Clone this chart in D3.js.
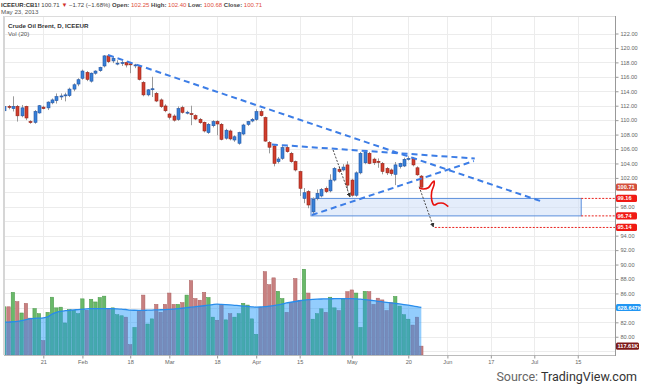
<!DOCTYPE html>
<html><head><meta charset="utf-8">
<script src="https://cdn.jsdelivr.net/npm/d3@7"></script>
<style>body{margin:0;background:#fff;} svg{display:block;font-family:"Liberation Sans",Arial,sans-serif;}</style>
</head><body><svg id="c" width="645" height="388"></svg>
<script>
// ---------- DATA ----------
const startDate = "2013-01-08";
const holidays = ["2013-03-29", "2013-05-27"];
const opens = [111.3,111.9,111.6,111.9,110.6,111.9,109.8,109.7,111.0,111.8,111.7,112.4,112.7,113.3,113.45,113.4,114.3,115.0,115.8,116.6,115.4,116.5,116.85,117.5,118.9,118.2,117.85,117.93,117.96,117.8,117.55,117.4,115.2,113.5,114.3,113.7,112.8,111.96,110.85,110.57,110.1,111.73,111.05,110.9,110.62,110.1,109.7,108.27,109.23,109.8,109.42,107.5,108.5,107.25,106.8,108.08,109.42,109.88,110.1,111.17,110.35,106.9,106.42,104.25,104.71,106.19,105.4,104.25,102.86,99.17,100.1,97.3,99.17,99.5,100.55,100.2,101.7,103.2,103.1,103.8,101.7,99.6,102.7,104.1,105.4,104.6,104.3,104.0,103.3,103.1,102.5,103.56,103.65,104.6,104.7,103.4,102.25];
const highs = [112.3,112.1,113.3,112.1,112.1,112.0,110.0,111.4,112.1,112.0,112.6,113.0,113.7,113.7,113.8,114.5,115.1,115.8,117.0,116.8,116.6,116.9,117.4,119.0,119.1,118.8,118.3,118.2,118.1,118.0,117.8,117.6,115.4,114.3,116.0,113.9,113.0,112.2,111.0,110.8,111.9,112.0,111.3,112.0,110.8,110.3,109.8,109.6,110.0,110.0,109.6,108.8,108.7,107.9,108.4,109.5,109.9,110.3,111.5,111.5,110.5,107.1,106.6,104.9,106.4,106.4,105.6,104.4,103.0,100.6,100.3,99.3,100.4,100.6,100.8,102.5,103.5,103.6,103.9,104.3,101.9,102.9,105.6,105.8,105.6,104.8,104.7,104.2,103.5,103.3,104.2,104.1,104.8,105.0,104.9,103.6,102.40];
const lows = [111.1,111.5,111.2,109.8,110.4,110.0,109.5,109.5,110.9,111.5,111.4,112.2,112.3,112.8,112.6,113.2,114.0,114.7,115.6,115.4,115.2,116.3,116.7,117.3,117.9,117.9,117.6,117.5,117.3,116.5,117.2,115.5,113.3,113.3,113.2,112.5,111.7,111.1,110.1,109.8,109.9,110.9,110.8,109.3,110.0,109.5,108.3,108.1,109.0,107.9,107.2,107.3,107.2,107.0,106.6,107.9,109.2,109.7,109.9,110.5,107.0,105.4,103.6,104.0,104.5,105.5,104.1,102.9,99.5,98.5,97.8,96.86,98.9,99.3,99.9,100.0,101.5,102.7,102.9,100.3,99.4,99.4,102.5,103.9,103.9,103.8,103.4,102.5,102.4,102.3,101.0,103.3,103.5,104.4,103.6,102.3,100.68];
const closes = [111.9,111.8,111.9,110.6,111.7,110.3,109.7,111.2,112.0,111.6,112.5,112.8,113.25,113.35,113.5,114.3,114.9,115.6,116.8,115.65,116.5,116.8,117.3,118.9,118.1,118.55,117.9,117.98,117.64,117.7,117.65,115.65,113.5,114.2,114.35,112.65,111.87,111.3,110.4,110.0,111.6,111.08,111.1,110.8,110.16,109.65,108.5,109.42,109.8,109.47,107.34,108.6,107.4,107.7,108.27,109.33,109.79,110.1,111.17,110.62,107.1,106.25,104.02,104.62,106.19,105.63,104.25,103.1,100.56,99.95,98.25,99.03,99.86,100.4,100.1,101.7,103.3,102.9,103.5,101.0,99.6,102.7,105.4,105.6,104.0,104.1,104.25,102.9,102.7,102.6,103.8,104.0,104.57,104.7,103.8,102.43,100.71];
const volumes = [638,638,829,706,556,683,488,615,547,191,565,765,624,633,424,601,592,547,743,592,738,702,761,779,611,624,533,519,501,137,365,592,793,410,478,670,565,670,820,670,670,693,793,984,747,725,829,761,501,460,670,465,547,501,547,684,661,478,273,633,1103,930,1021,843,747,565,693,1012,725,1135,820,474,547,611,565,765,624,588,738,838,861,820,365,843,838,670,752,729,588,693,775,647,533,474,396,501,117.61];
const volMA = [434,436,440,445,455,468,480,486,488,492,505,540,565,578,586,592,597,601,606,611,613,615,615,615,615,613,610,606,602,594,592,591,591,593,595,597,599,601,604,608,613,619,626,633,639,645,652,660,667,672,670,667,663,658,653,648,643,638,634,635,640,647,654,662,675,690,698,708,718,726,732,736,739,741,743,744,745,746,747,747,746,743,739,733,726,719,711,704,697,690,683,676,668,659,649,639,629];
const priceTicks = [78,80,82,84,86,88,90,92,94,96,98,100,102,104,106,108,110,112,114,116,118,120,122];
const tickDates = ["2013-01-21","2013-02-01","2013-02-18","2013-03-01","2013-03-18","2013-04-01","2013-04-15","2013-05-01","2013-05-20","2013-06-03","2013-06-17","2013-07-01","2013-07-15"];
const tickLabels = ["21","Feb","18","Mar","18","Apr","15","May","20","Jun","17","Jul","15"];
// drawings (bar index from first bar, price)
const trendLines = [[23.9,119.02,123.4,98.8],[61.6,106.63,108.3,104.69],[70.8,96.86,108.1,104.34]];
const zone = [70.6,132.8,96.74,99.16];
const levelLines = [[132.8,99.16],[132.8,96.74],[99.1,95.14]];
const arrows = [[75.7,105.86,79.6,99.36],[95.5,100.78,98.8,95.2]];
const squiggle = [[95.54,100.56],[96.46,100.46],[97.61,100.64],[98.39,101.25],[98.92,101.57],[98.92,101.02],[98.39,100.09],[98.39,98.94],[98.92,98.25],[99.91,98.48],[101.06,98.48],[102.21,98.01]];
const lastPrice = 100.71, lastVol = 117.61, lastVolMA = 628.647;

// ---------- LAYOUT ----------
const L = 4, R = 615, T = 16, B = 355;
const svg = d3.select("#c");
const parse = d3.utcParse("%Y-%m-%d"), fmt = d3.utcFormat("%Y-%m-%d");
const days = [];
{ let d = parse(startDate); while (days.length < 150) { const w = d.getUTCDay(); const s = fmt(d); if (w !== 0 && w !== 6 && !holidays.includes(s)) days.push(s); d = new Date(d.getTime() + 86400000); } }
const tickIdx = tickDates.map(t => days.indexOf(t));

const x = d3.scaleLinear().domain([0, 96]).range([4.2, 4.2 + 96 * 4.345]);
const y = d3.scaleLinear().domain([78, 122]).range([351.2, 33.5]);
const yV = d3.scaleLinear().domain([0, lastVolMA]).range([B, 307.5]);

svg.append("defs").html(`<clipPath id="clip"><rect x="${L}" y="${T}" width="${R-L}" height="${B-T}"/></clipPath>
<marker id="ah" viewBox="0 0 10 10" refX="9" refY="5" markerWidth="5" markerHeight="5" orient="auto"><path d="M0,0L10,5L0,10z" fill="#333"/></marker>`);

// grid
const g = svg.append("g");
g.selectAll(".hg").data(priceTicks).join("line").attr("x1", L).attr("x2", R)
  .attr("y1", d => Math.round(y(d)) + 0.5).attr("y2", d => Math.round(y(d)) + 0.5).attr("stroke", "#ececec");
g.selectAll(".vg").data(tickIdx).join("line").attr("y1", T).attr("y2", B)
  .attr("x1", d => Math.round(x(d)) + 0.5).attr("x2", d => Math.round(x(d)) + 0.5).attr("stroke", "#ececec");

const plot = svg.append("g").attr("clip-path", "url(#clip)");
const n = closes.length;
const idx = d3.range(n);
const up = i => closes[i] >= opens[i];

// volume
plot.append("g").selectAll("rect").data(idx).join("rect")
  .attr("x", i => x(i) - 1.7).attr("width", 3.4)
  .attr("y", i => yV(volumes[i])).attr("height", i => B - yV(volumes[i]))
  .attr("fill", i => up(i) ? "rgb(105,185,105)" : "rgb(200,128,128)")
  .attr("stroke", i => up(i) ? "rgb(70,150,70)" : "rgb(170,95,95)").attr("stroke-width", 0.5);
const area = d3.area().x(i => x(i)).y0(B).y1(i => yV(volMA[i])).curve(d3.curveMonotoneX);
plot.append("path").datum(idx).attr("d", area).attr("fill", "rgba(30,150,250,0.48)");
plot.append("path").datum(idx).attr("d", d3.line().x(i => x(i)).y(i => yV(volMA[i])).curve(d3.curveMonotoneX))
  .attr("fill", "none").attr("stroke", "rgb(40,140,235)").attr("stroke-width", 1.3);

// zone rectangle
plot.append("rect").attr("x", x(zone[0])).attr("width", x(zone[1]) - x(zone[0]))
  .attr("y", y(zone[3])).attr("height", y(zone[2]) - y(zone[3]))
  .attr("fill", "rgba(205,222,248,0.55)").attr("stroke", "#5b8fdc").attr("stroke-width", 1);

// candles
const cg = plot.append("g");
cg.selectAll("line").data(idx).join("line")
  .attr("x1", i => Math.round(x(i)) + 0.5).attr("x2", i => Math.round(x(i)) + 0.5)
  .attr("y1", i => y(highs[i])).attr("y2", i => y(lows[i])).attr("stroke", "#9a9a9a").attr("stroke-width", 1);
cg.selectAll("rect").data(idx).join("rect")
  .attr("x", i => Math.round(x(i)) - 1).attr("width", 3)
  .attr("y", i => y(Math.max(opens[i], closes[i])))
  .attr("height", i => Math.max(1, Math.abs(y(opens[i]) - y(closes[i]))))
  .attr("fill", i => up(i) ? "rgb(55,128,215)" : "rgb(208,62,45)")
  .attr("stroke", i => up(i) ? "rgb(35,85,165)" : "rgb(150,35,25)").attr("stroke-width", 0.6);

// level dotted lines
plot.selectAll(".lv").data(levelLines).join("line")
  .attr("x1", d => x(d[0])).attr("x2", R).attr("y1", d => y(d[1])).attr("y2", d => y(d[1]))
  .attr("stroke", "#e8231e").attr("stroke-width", 1).attr("stroke-dasharray", "2,1.5");

// trend lines
plot.selectAll(".tl").data(trendLines).join("line")
  .attr("x1", d => x(d[0])).attr("y1", d => y(d[1])).attr("x2", d => x(d[2])).attr("y2", d => y(d[3]))
  .attr("stroke", "rgb(60,125,230)").attr("stroke-width", 2).attr("stroke-dasharray", "6,4");

// arrows
plot.selectAll(".ar").data(arrows).join("line")
  .attr("x1", d => x(d[0])).attr("y1", d => y(d[1])).attr("x2", d => x(d[2])).attr("y2", d => y(d[3]))
  .attr("stroke", "#333").attr("stroke-width", 0.9).attr("stroke-dasharray", "2,1.5").attr("marker-end", "url(#ah)");

// squiggle
plot.append("path").datum(squiggle)
  .attr("d", d3.line().x(d => x(d[0])).y(d => y(d[1])).curve(d3.curveCatmullRom))
  .attr("fill", "none").attr("stroke", "#e8100c").attr("stroke-width", 1.6);

// frame
svg.append("line").attr("x1", L).attr("x2", L).attr("y1", T).attr("y2", B).attr("stroke", "#d6d6d6").attr("stroke-width", 2);
svg.append("line").attr("x1", L).attr("x2", R).attr("y1", T + 0.5).attr("y2", T + 0.5).attr("stroke", "#dcdcdc");
svg.append("line").attr("x1", L).attr("x2", R).attr("y1", B + 0.5).attr("y2", B + 0.5).attr("stroke", "#bbb");
svg.append("line").attr("x1", R + 0.5).attr("x2", R + 0.5).attr("y1", T).attr("y2", B + 1).attr("stroke", "#999");

// axis value tags
const tags = [
  { y: y(lastPrice), t: d3.format(".2f")(lastPrice), c: "#d4503c", w: 21 },
  { y: y(levelLines[0][1]), t: d3.format(".2f")(levelLines[0][1]), c: "#f01a14", w: 21 },
  { y: y(levelLines[1][1]), t: d3.format(".2f")(levelLines[1][1]), c: "#f01a14", w: 21 },
  { y: y(levelLines[2][1]), t: d3.format(".2f")(levelLines[2][1]), c: "#f01a14", w: 21 },
  { y: yV(lastVolMA), t: lastVolMA + "K", c: "#2196f3", w: 25 },
  { y: yV(lastVol), t: lastVol + "K", c: "#7e1a1a", w: 23 }
];

// axes (tick labels hidden behind a tag are left out, as in the reference)
const visibleTicks = priceTicks.filter(p => !tags.some(t => Math.abs(t.y - y(p)) < 6));
const ay = svg.append("g").attr("transform", `translate(${R + 0.5},0)`)
  .call(d3.axisRight(y).tickValues(visibleTicks).tickFormat(d3.format(".2f")).tickSize(3).tickPadding(2));
ay.select(".domain").remove();
ay.selectAll("line").attr("stroke", "#999");
ay.selectAll("text").attr("font-size", 5.6).attr("fill", "#666").attr("font-family", "Liberation Sans, Arial");
const ax = svg.append("g").attr("transform", `translate(0,${B + 0.5})`)
  .call(d3.axisBottom(x).tickValues(tickIdx).tickFormat((d, i) => tickLabels[i]).tickSize(3).tickPadding(2));
ax.select(".domain").remove();
ax.selectAll("line").attr("stroke", "#999");
ax.selectAll("text").attr("font-size", 5.6).attr("fill", "#666").attr("font-family", "Liberation Sans, Arial");

const tg = svg.append("g");
tags.forEach(d => {
  tg.append("rect").attr("x", R + 1).attr("y", d.y - 3.6).attr("width", d.w).attr("height", 7.2).attr("rx", 1.5).attr("fill", d.c);
  tg.append("text").attr("x", R + 2.5).attr("y", d.y + 2).attr("font-size", 5.6).attr("fill", "#fff").attr("font-weight", "bold").text(d.t);
});

// header
const h = svg.append("text").attr("x", 1).attr("y", 7).attr("font-size", 6).attr("fill", "#444");
h.append("tspan").attr("font-weight", "bold").attr("fill", "#333").text("ICEEUR:CB1! ");
h.append("tspan").text(d3.format(".2f")(lastPrice) + " ");
h.append("tspan").attr("fill", "#d0302a").text("▼");
h.append("tspan").text(" −1.72 (−1.68%)  ");
const hv = [["Open:", "102.25"], ["High:", "102.40"], ["Low:", "100.68"], ["Close:", "100.71"]];
hv.forEach(([a, b]) => { h.append("tspan").attr("font-weight", "bold").attr("fill", "#444").text(" " + a + " "); h.append("tspan").attr("fill", "#e05040").text(b + " "); });
svg.append("text").attr("x", 1).attr("y", 14.3).attr("font-size", 6.2).attr("fill", "#555").text("May 23, 2013");
svg.append("text").attr("x", 8).attr("y", 28).attr("font-size", 6.2).attr("font-weight", "bold").attr("fill", "#333").text("Crude Oil Brent, D, ICEEUR");
svg.append("text").attr("x", 8).attr("y", 36).attr("font-size", 6.2).attr("fill", "#555").text("Vol (20)");

// source
const src = svg.append("text").attr("x", 637).attr("y", 381).attr("text-anchor", "end").attr("font-size", 12.5)
  .attr("font-family", "Roboto, Liberation Sans, sans-serif");
src.append("tspan").attr("fill", "#666").text("Source: ");
src.append("tspan").attr("fill", "#333").text("TradingView.com");
</script></body></html>
